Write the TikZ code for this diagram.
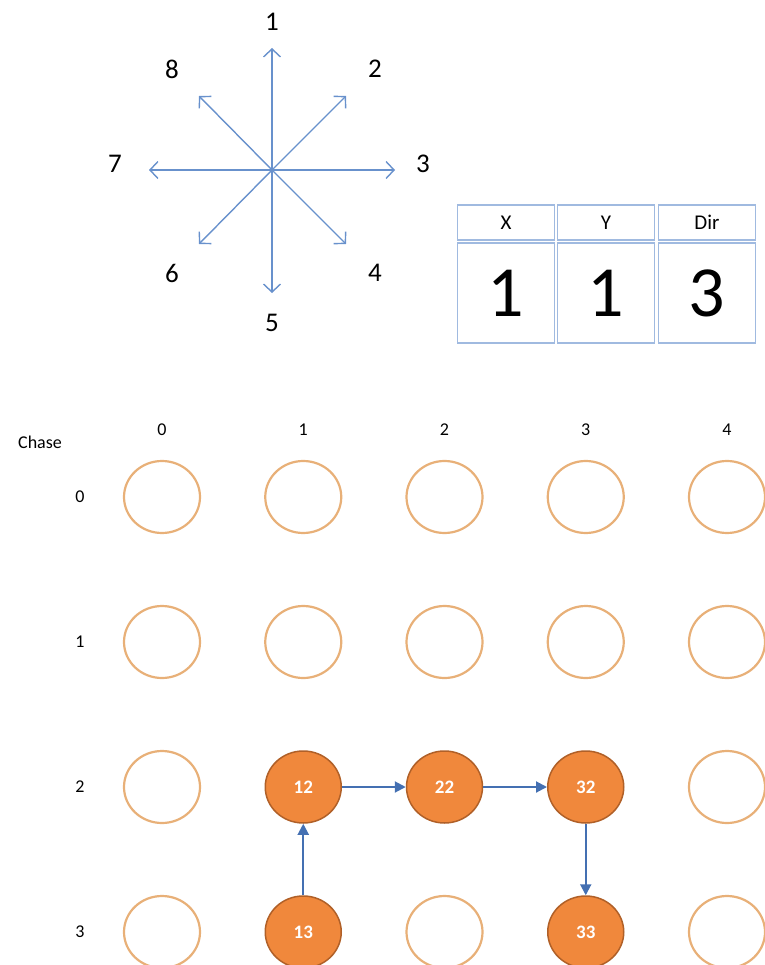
\documentclass[tikz,border=0pt]{standalone}
\usepackage{fontspec}
\setmainfont{Carlito}
\usetikzlibrary{arrows.meta}

\definecolor{azulflecha}{RGB}{104,145,204}
\definecolor{azulborde}{RGB}{160,186,224}
\definecolor{azulcamino}{RGB}{68,112,178}
\definecolor{naranja}{RGB}{240,136,60}
\definecolor{naranjaosc}{RGB}{176,96,40}
\definecolor{naranjaclaro}{RGB}{232,176,120}

\tikzset{
  dir/.style={azulflecha, line width=1.4pt,
    -{Straight Barb[length=8pt,width=17pt]}},
  etiq/.style={font=\fontsize{27}{30}\selectfont},
  celda/.style={draw=azulborde, line width=1.2pt, inner sep=0pt,
    minimum width=97pt},
  hueco/.style={ellipse, draw=naranjaclaro, line width=2.2pt,
    minimum width=76pt, minimum height=72pt, inner sep=0pt},
  lleno/.style={ellipse, draw=naranjaosc, fill=naranja, line width=1.5pt,
    minimum width=76pt, minimum height=72pt, inner sep=0pt,
    text=white, font=\fontsize{19}{22}\selectfont\bfseries},
  camino/.style={azulcamino, line width=2pt,
    -{Triangle[length=11pt,width=11pt]}},
  rotulo/.style={font=\fontsize{18}{21}\selectfont}
}
\usetikzlibrary{shapes.geometric}

\begin{document}
\begin{tikzpicture}[x=1pt,y=-1pt]

  \useasboundingbox (0,0) rectangle (764,965);

  % Rosa de direcciones
  \coordinate (c) at (272,170);
  \coordinate (d1) at (272,48);
  \coordinate (d2) at (346,96);
  \coordinate (d3) at (395,170);
  \coordinate (d4) at (346,244);
  \coordinate (d5) at (272,293);
  \coordinate (d6) at (199,244);
  \coordinate (d7) at (149,170);
  \coordinate (d8) at (199,96);

  \draw[dir] (c) -- (d1);
  \draw[dir] (c) -- (d2);
  \draw[dir] (c) -- (d3);
  \draw[dir] (c) -- (d4);
  \draw[dir] (c) -- (d5);
  \draw[dir] (c) -- (d6);
  \draw[dir] (c) -- (d7);
  \draw[dir] (c) -- (d8);

  % Numeros de direccion
  \node[etiq] (l1) at (272,22) {1};
  \node[etiq] (l2) at (375,69) {2};
  \node[etiq] (l3) at (423,164) {3};
  \node[etiq] (l4) at (375,273) {4};
  \node[etiq] (l5) at (272,323) {5};
  \node[etiq] (l6) at (172,273) {6};
  \node[etiq] (l7) at (115,164) {7};
  \node[etiq] (l8) at (172,69) {8};

  % Tabla X, Y, Dir
  \node[celda, minimum height=35pt, font=\fontsize{21}{24}\selectfont]
    (hx) at (506,222.5) {X};
  \node[celda, minimum height=35pt, font=\fontsize{21}{24}\selectfont]
    (hy) at (606,222.5) {Y};
  \node[celda, minimum height=35pt, font=\fontsize{21}{24}\selectfont]
    (hd) at (707,222.5) {Dir};

  \node[celda, minimum height=100pt, font=\fontsize{72}{80}\selectfont]
    (vx) at (506,293) {1};
  \node[celda, minimum height=100pt, font=\fontsize{72}{80}\selectfont]
    (vy) at (606,293) {1};
  \node[celda, minimum height=100pt, font=\fontsize{72}{80}\selectfont]
    (vd) at (707,293) {3};

  % Rotulos de la rejilla
  \node[rotulo] (chase) at (40,442) {Chase};
  \foreach \i in {0,...,4}
    \node[rotulo] (col\i) at ({162+141.25*\i},430) {\i};
  \foreach \j in {0,...,3}
    \node[rotulo] (fila\j) at (80,{497+145*\j}) {\j};

  % Celdas vacias
  \foreach \j/\cols in {0/{0,1,2,3,4},1/{0,1,2,3,4},2/{0,4},3/{0,2,4}}
    \foreach \i in \cols
      \node[hueco] (n\i\j) at ({162+141.25*\i},{497+145*\j}) {};

  % Celdas del recorrido
  \node[lleno] (n12) at (303.25,787) {12};
  \node[lleno] (n22) at (444.5,787) {22};
  \node[lleno] (n32) at (585.75,787) {32};
  \node[lleno] (n13) at (303.25,932) {13};
  \node[lleno] (n33) at (585.75,932) {33};

  % Recorrido
  \draw[camino] (n13) -- (n12);
  \draw[camino] (n12) -- (n22);
  \draw[camino] (n22) -- (n32);
  \draw[camino] (n32) -- (n33);

\end{tikzpicture}
\end{document}
